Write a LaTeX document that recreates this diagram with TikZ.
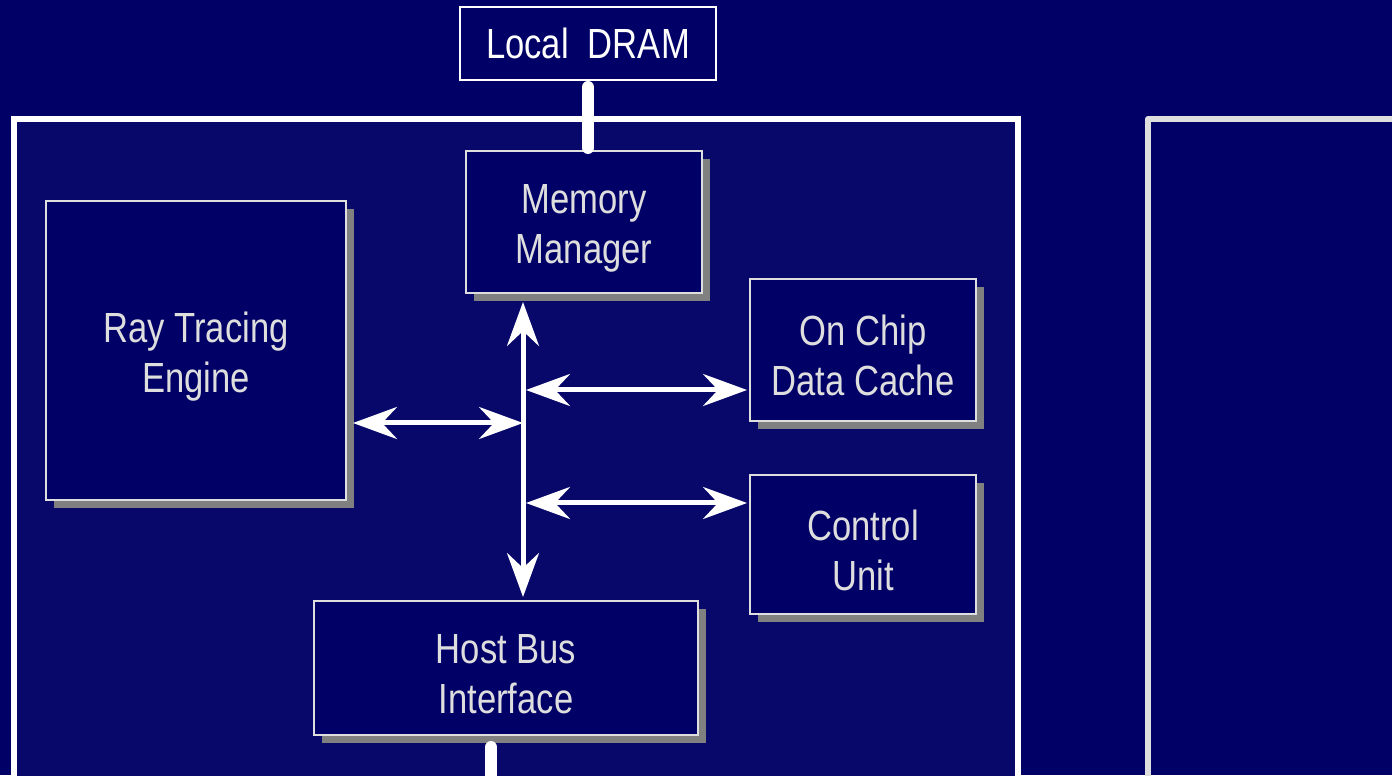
\documentclass[tikz,border=0pt]{standalone}
\usepackage{fontspec}
\setmainfont[FakeStretch=0.82]{Liberation Sans}
\usetikzlibrary{arrows.meta,shadows}
\definecolor{navy}{RGB}{0,0,102}
\definecolor{chipfill}{RGB}{8,8,106}
\definecolor{rim}{RGB}{222,222,222}
\definecolor{shade}{RGB}{128,128,128}
\begin{document}
\begin{tikzpicture}[
        block/.style={draw=rim, line width=0.04cm, fill=navy, text=rim,
                      align=center, inner sep=0pt, text height=52.5pt,
                      font=\fontsize{24}{28.5}\selectfont,
                      general shadow={fill=shade, shadow xshift=0.16cm, shadow yshift=-0.16cm}},
        link/.style={draw=white, line width=0.1cm,
                     {Stealth[length=0.88cm, width=0.64cm, inset=0.3cm]}-{Stealth[length=0.88cm, width=0.64cm, inset=0.3cm]}},
        pin/.style={draw=white, line width=0.24cm, line cap=round}
    ]
        \fill[navy] (0, 0) rectangle (27.84, 15.5);
        \clip (0, 0) rectangle (27.84, 15.5);

        % chip outline and the neighbouring board
        \draw[white, line width=0.12cm, fill=chipfill] (0.28, -1) -- (0.28, 13.12) -- (20.36, 13.12) -- (20.36, -1);
        \draw[rim, line width=0.12cm, line cap=round, line join=round] (22.96, -1) -- (22.96, 13.12) -- (28.5, 13.12);

        \node (dram) [draw=white, line width=0.04cm, fill=navy, text=white,
                      minimum width=5.12cm, minimum height=1.46cm,
                      font=\fontsize{24}{28.5}\selectfont] at (11.76, 14.63) {Local\ \ DRAM};

        \node (mem)   [block, minimum width=4.72cm, minimum height=2.84cm] at (11.68, 11.06) {Memory\\Manager};
        \node (rte)   [block, minimum width=6.00cm, minimum height=5.98cm] at (3.92, 8.49)   {Ray Tracing\\Engine};
        \node (cache) [block, minimum width=4.52cm, minimum height=2.84cm] at (17.26, 8.5)   {On Chip\\Data Cache};
        \node (ctrl)  [block, minimum width=4.52cm, minimum height=2.78cm] at (17.26, 4.61)  {Control\\Unit};
        \node (host)  [block, minimum width=7.68cm, minimum height=2.68cm] at (10.12, 2.14)  {Host Bus\\Interface};

        \coordinate (bus)    at (10.46, 7.04);
        \coordinate (busup)  at (10.52, 7.7);
        \coordinate (buslow) at (10.52, 5.44);
        \coordinate (hostout) at (9.82, -0.5);

        % internal bus
        \draw[link, shorten <=0.16cm, shorten >=0.06cm] (mem.south -| bus) -- (host.north -| bus);
        \draw[link, shorten <=0.12cm] (rte.east |- bus) -- (bus);
        \draw[link, shorten >=0.04cm] (busup) -- (busup -| cache.west);
        \draw[link, shorten >=0.04cm] (buslow) -- (buslow -| ctrl.west);

        % off-chip connections
        \draw[pin, shorten <=0.12cm, shorten >=0.04cm] (dram.south) -- (dram.south |- mem.north);
        \draw[pin, shorten <=0.22cm] (host.south -| hostout) -- (hostout);
    \end{tikzpicture}
\end{document}
